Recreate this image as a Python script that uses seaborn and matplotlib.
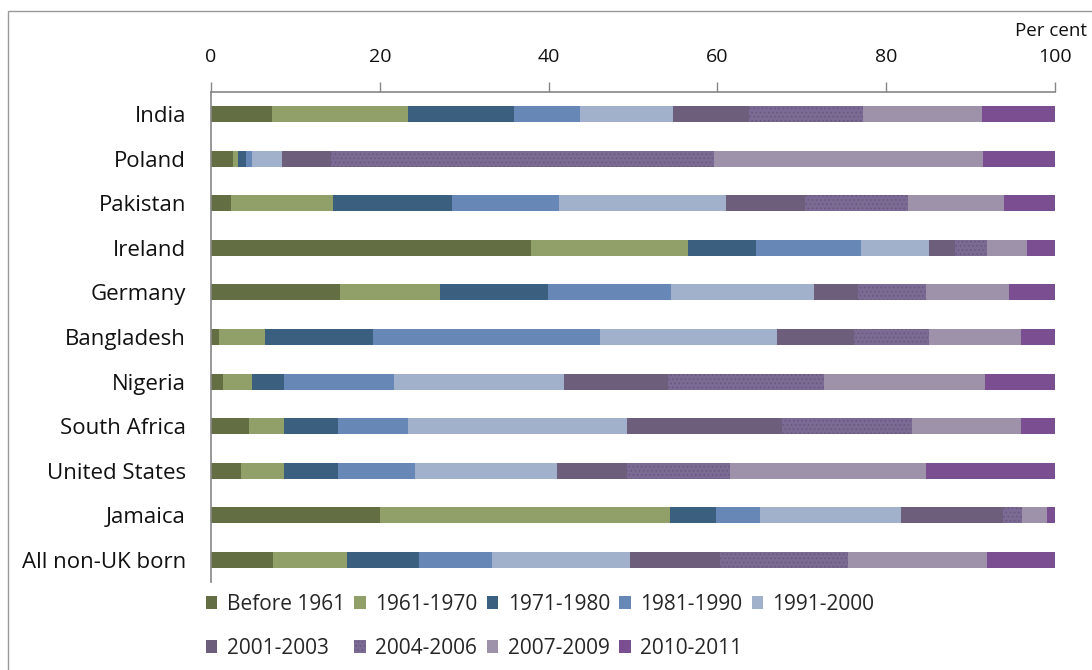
import pandas as pd
import matplotlib
matplotlib.use("Agg")
import matplotlib.pyplot as plt
import matplotlib.patches as mpatches
import seaborn as sns

# Ülkeler ve dönemler
countries = ["India", "Poland", "Pakistan", "Ireland", "Germany", "Bangladesh",
             "Nigeria", "South Africa", "United States", "Jamaica", "All non-UK born"]
periods = ["Before 1961", "1961-1970", "1971-1980", "1981-1990", "1991-2000",
           "2001-2003", "2004-2006", "2007-2009", "2010-2011"]

# Dönem başına yüzdeler (ülke sırasıyla)
before_1961 = [7.2, 2.6, 2.4, 37.9, 15.3, 1.0, 1.4, 4.5, 3.5, 20.0, 7.4]
p1961_1970 = [16.2, 0.6, 12.1, 18.6, 11.8, 5.4, 3.5, 4.1, 5.2, 34.4, 8.7]
p1971_1980 = [12.5, 0.9, 14.0, 8.1, 12.8, 12.8, 3.7, 6.5, 6.4, 5.4, 8.5]
p1981_1990 = [7.8, 0.8, 12.7, 12.4, 14.6, 26.9, 13.1, 8.3, 9.1, 5.2, 8.7]
p1991_2000 = [11.0, 3.5, 19.8, 8.1, 16.9, 21.0, 20.1, 25.9, 16.8, 16.8, 16.4]
p2001_2003 = [9.1, 5.8, 9.4, 3.1, 5.3, 9.1, 12.3, 18.4, 8.3, 12.0, 10.6]
p2004_2006 = [13.5, 45.4, 12.2, 3.7, 8.0, 8.9, 18.5, 15.3, 12.2, 2.3, 15.2]
p2007_2009 = [14.1, 31.9, 11.4, 4.8, 9.9, 10.9, 19.1, 13.0, 23.2, 2.9, 16.4]
p2010_2011 = [8.6, 8.5, 6.0, 3.3, 5.4, 4.0, 8.3, 4.0, 15.3, 1.0, 8.1]

colors = ["#636E42", "#91A068", "#3B5F7E", "#6787B7", "#A1B1CB",
          "#6D5E7C", "#7B6A93", "#9E92AA", "#7A4E90"]

df = pd.DataFrame({"Country": countries})
for name, vals in zip(periods, [before_1961, p1961_1970, p1971_1980, p1981_1990,
                                p1991_2000, p2001_2003, p2004_2006, p2007_2009,
                                p2010_2011]):
    df[name] = vals

# Yığılmış çubuklar için kümülatif toplam
cum = df[periods].cumsum(axis=1)
cum["Country"] = df["Country"]

sns.set_style("white")
plt.rcParams["font.family"] = ["Open Sans", "DejaVu Sans"]
plt.rcParams["hatch.linewidth"] = 0.6

fig = plt.figure(figsize=(10.92, 6.70), dpi=100)
ax = fig.add_axes([211 / 1092, 1 - 582 / 670, 844 / 1092, 490 / 670])

# Büyükten küçüğe çiz, böylece üst üste binerek yığılmış görünür
for i in reversed(range(len(periods))):
    kw = dict(linewidth=0)
    if periods[i] == "2004-2006":
        kw = dict(linewidth=0, hatch="....", edgecolor="#67587C")
    sns.barplot(data=cum, x=periods[i], y="Country", color=colors[i],
                saturation=1, width=0.36, orient="h", errorbar=None,
                label=periods[i], ax=ax, **kw)
if ax.get_legend() is not None:
    ax.get_legend().remove()

ax.set_xlim(0, 100)
ax.set_xlabel("")
ax.set_ylabel("")
ax.xaxis.tick_top()
ax.set_xticks([0, 20, 40, 60, 80, 100])
ax.tick_params(axis="x", direction="out", length=7, width=1, color="#868686",
               labelsize=14, pad=12, labelcolor="#111111")
ax.set_yticks(range(len(countries)))
ax.set_yticklabels(countries)
ax.set_yticks([k - 0.5 for k in range(len(countries) + 1)], minor=True)
ax.tick_params(axis="y", which="major", length=0, labelsize=16, pad=18,
               labelcolor="#111111")
ax.tick_params(axis="y", which="minor", direction="out", length=7, width=1,
               color="#868686")
for s in ["right", "bottom"]:
    ax.spines[s].set_visible(False)
for s in ["top", "left"]:
    ax.spines[s].set_color("#868686")
    ax.spines[s].set_linewidth(1.2)

fig.text(1051 / 1092, 1 - 31 / 670, "Per cent", ha="center", va="center",
         fontsize=13.5, color="#111111")

# Lejant: satır sırasına göre yeniden düzenle
handles, labels = ax.get_legend_handles_labels()
lookup = dict(zip(labels, handles))
order = [0, 5, 1, 6, 2, 7, 3, 8, 4]
fig.legend([lookup[periods[k]] for k in order], [periods[k] for k in order],
           ncol=5, loc="upper left", bbox_to_anchor=(206 / 1092, 1 - 594 / 670),
           frameon=False, fontsize=15, handlelength=0.55, handleheight=0.55,
           handletextpad=0.45, columnspacing=0.45, labelspacing=1.1,
           borderpad=0, borderaxespad=0)

# Dış çerçeve
fig.add_artist(mpatches.Rectangle((8 / 1092, -0.1), 1.2, 1.1 - 11 / 670,
                                  transform=fig.transFigure, fill=False,
                                  edgecolor="#9a9a9a", linewidth=1))

plt.savefig("out.png", dpi=100)
